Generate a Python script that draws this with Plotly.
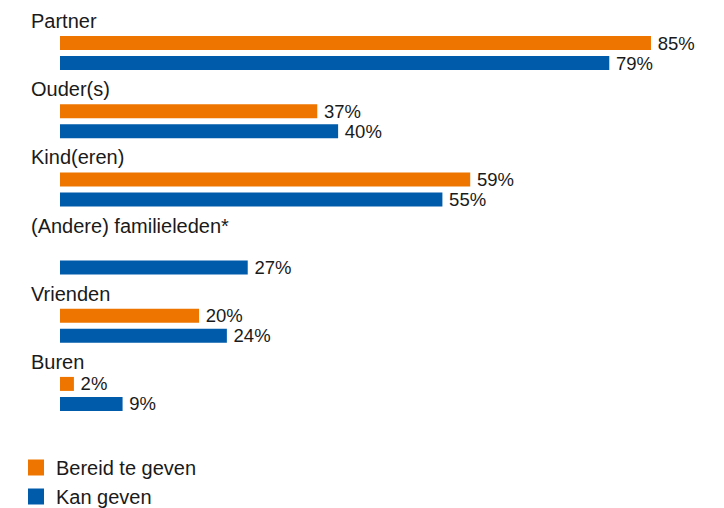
import plotly.graph_objects as go

categories = ["Partner", "Ouder(s)", "Kind(eren)", "(Andere) familieleden*", "Vrienden", "Buren"]
bereid = [85, 37, 59, None, 20, 2]
kan = [79, 40, 55, 27, 24, 9]
series_names = ["Bereid te geven", "Kan geven"]
colors = ["#EE7600", "#005BAA"]

FONT = "Liberation Sans, Arial, sans-serif"

def labels(vals):
    return [("" if v is None else f"\u2009{v}%") for v in vals]

fig = go.Figure()
for name, vals, col in zip(series_names, [bereid, kan], colors):
    fig.add_trace(go.Bar(
        y=categories, x=vals, name=name, orientation="h",
        marker=dict(color=col, line=dict(width=0)),
        text=labels(vals), textposition="outside", constraintext="none",
        textfont=dict(family=FONT, size=18.5, color="#1a1a1a"),
        cliponaxis=False, showlegend=False,
    ))

# legend entries with square swatches
for name, col in zip(series_names, colors):
    fig.add_trace(go.Scatter(
        x=[None], y=[None], mode="markers", name=name, legendgroup=name,
        marker=dict(symbol="square", size=16, color=col),
        showlegend=True,
    ))

for c in categories:
    fig.add_annotation(
        x=-0.0467, xref="paper", y=c, yref="y", yshift=32,
        text=c, showarrow=False, xanchor="left", yanchor="middle",
        font=dict(family=FONT, size=20, color="#1a1a1a"),
    )

fig.update_layout(
    width=716, height=530,
    margin=dict(l=52, r=0, t=11, b=110),
    paper_bgcolor="white", plot_bgcolor="white",
    barmode="group", bargap=0.413, bargroupgap=0.3,
    showlegend=True,
    legend=dict(
        x=-0.0663, xanchor="left", y=-0.0489, yanchor="top",
        orientation="v", traceorder="normal", tracegroupgap=2,
        font=dict(family=FONT, size=20, color="#1a1a1a"),
        itemwidth=30, bgcolor="rgba(0,0,0,0)",
    ),
    xaxis=dict(range=[0, 95.5], visible=False, fixedrange=True),
    yaxis=dict(type="category", categoryorder="array", categoryarray=categories,
               autorange=False, range=[5.5, -0.5], visible=False, fixedrange=True),
)

fig.write_html("out.html")
